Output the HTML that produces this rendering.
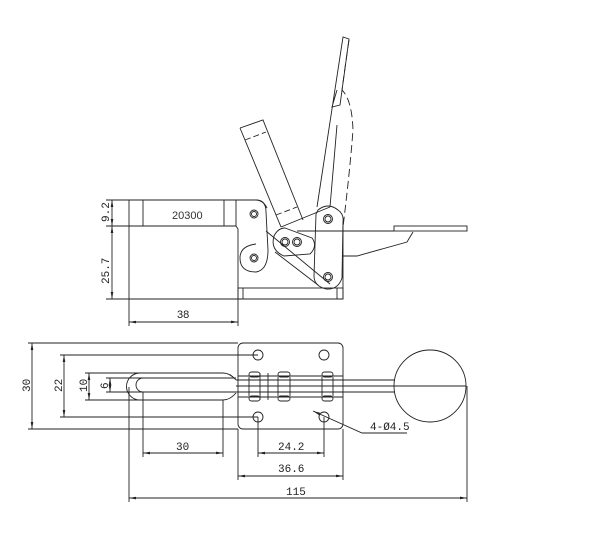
<!DOCTYPE html>
<html><head><meta charset="utf-8"><style>html,body{margin:0;padding:0;background:#fff}svg{display:block}</style></head>
<body>
<svg width="600" height="548" viewBox="0 0 600 548" xmlns="http://www.w3.org/2000/svg" fill="none" stroke="#222" stroke-width="0.9" font-family="Liberation Mono, monospace">
<defs><marker id="a" markerWidth="8" markerHeight="6" refX="8" refY="3" orient="auto-start-reverse"><path d="M0,1.5 L8,3 L0,4.5z" fill="#222" stroke="none"/></marker></defs>
<!-- SIDE VIEW -->
<path d="M129,200 H256 Q263,200 267,208"/>
<path d="M129,226 H236 L238,229 V299 H343"/>
<line x1="129" y1="200" x2="129" y2="326"/>
<line x1="143" y1="200" x2="143" y2="226"/>
<line x1="224" y1="200" x2="224" y2="226"/>
<line x1="236" y1="200" x2="236" y2="226"/>
<text x="172" y="219" font-family="Liberation Sans, sans-serif" font-size="11" fill="#333" stroke="none">20300</text>
<rect x="238" y="288" width="105" height="11"/>
<line x1="243" y1="288" x2="243" y2="299"/><line x1="337" y1="288" x2="337" y2="299"/>
<path d="M343,299 V222"/>
<path d="M256,200 Q266,200 266,212 L268,250 Q268,270 256,272 Q240,272 240,258 Q240,246 256,244"/>
<circle cx="254" cy="214" r="4"/><circle cx="254" cy="214" r="2.5"/>
<circle cx="254" cy="258" r="4"/><circle cx="254" cy="258" r="2.5"/>
<path d="M285,228 L312,238 Q318,246 310,254 L284,256 Q270,250 274,236 Q278,228 285,228Z"/>
<circle cx="285" cy="242" r="4.5"/><circle cx="285" cy="242" r="3"/>
<circle cx="297" cy="242" r="4.5"/><circle cx="297" cy="242" r="3"/>
<line x1="266" y1="231" x2="330" y2="284"/>
<line x1="275" y1="252" x2="318" y2="285"/>
<path d="M318,210 Q328,202 338,210 Q344,214 343,222 L342,278 Q338,290 326,289 Q314,286 314,276 L316,214Z"/>
<circle cx="328" cy="219" r="4.5"/><circle cx="328" cy="219" r="3"/>
<circle cx="328" cy="277" r="4.5"/><circle cx="328" cy="277" r="3"/>
<path d="M240,128 L263,120 L303,220"/>
<path d="M240,128 L281,227"/>
<line x1="245" y1="140" x2="266" y2="132" stroke-dasharray="6,3"/>
<line x1="276" y1="215" x2="297" y2="207" stroke-dasharray="6,3"/>
<line x1="281" y1="227" x2="330" y2="207"/>
<path d="M317,207 L343,37 L349,39 L340,105 L332,107 L337,90"/>
<path d="M349,40 Q346,60 342,90 Q352,100 353,130 Q350,170 343,227" stroke-dasharray="8,4"/>
<line x1="330" y1="207" x2="337" y2="125"/>
<line x1="297" y1="231" x2="394" y2="231"/>
<rect x="394" y="226" width="73" height="5"/>
<path d="M413,232 L407,242 L357,256 L343,256"/>
<line x1="106" y1="200" x2="129" y2="200"/><line x1="106" y1="226" x2="129" y2="226"/><line x1="106" y1="299" x2="238" y2="299"/>
<line x1="112" y1="200" x2="112" y2="226" marker-start="url(#a)" marker-end="url(#a)"/>
<line x1="112" y1="226" x2="112" y2="299" marker-start="url(#a)" marker-end="url(#a)"/>
<line x1="238" y1="299" x2="238" y2="326"/>
<line x1="129" y1="322" x2="238" y2="322" marker-start="url(#a)" marker-end="url(#a)"/>
<g fill="#222" stroke="none" font-size="11">
<text transform="translate(109,222) rotate(-90)">9.2</text>
<text transform="translate(109,284) rotate(-90)">25.7</text>
<text x="177" y="318" font-family="Liberation Sans, sans-serif">38</text>
</g>
<!-- TOP VIEW -->
<rect x="238" y="343" width="105" height="86" rx="5"/>
<circle cx="258" cy="355" r="5"/><circle cx="324" cy="355" r="5"/>
<circle cx="258" cy="417" r="5"/><circle cx="324" cy="417" r="5"/>
<path d="M223,373 H140 A13.5,13.5 0 0 0 140,400 H223 Q230,400 236,393"/>
<path d="M223,373 Q230,373 236,380"/>
<path d="M143,392 A7,7 0 0 1 143,378 H236"/>
<line x1="143" y1="392" x2="236" y2="392"/>
<line x1="236" y1="380" x2="395" y2="380"/><line x1="236" y1="392" x2="395" y2="392"/>
<line x1="236" y1="386" x2="466" y2="386"/>
<line x1="238" y1="376" x2="343" y2="376"/><line x1="238" y1="397" x2="343" y2="397"/>
<line x1="260" y1="373" x2="260" y2="400"/><line x1="268" y1="373" x2="268" y2="400"/>
<g>
<rect x="249" y="372" width="11" height="5" rx="2.5"/><rect x="249" y="396" width="11" height="5" rx="2.5"/>
<rect x="278" y="372" width="12" height="5" rx="2.5"/><rect x="278" y="396" width="12" height="5" rx="2.5"/>
<rect x="322" y="372" width="11" height="5" rx="2.5"/><rect x="322" y="396" width="11" height="5" rx="2.5"/>
<line x1="249" y1="377" x2="249" y2="396"/><line x1="278" y1="377" x2="278" y2="396"/><line x1="290" y1="377" x2="290" y2="396"/>
<line x1="322" y1="377" x2="322" y2="396"/><line x1="333" y1="377" x2="333" y2="396"/>
</g>
<circle cx="430" cy="386" r="36"/>
<line x1="28" y1="343" x2="238" y2="343"/><line x1="28" y1="429" x2="238" y2="429"/>
<line x1="32" y1="343" x2="32" y2="429" marker-start="url(#a)" marker-end="url(#a)"/>
<line x1="60" y1="355" x2="258" y2="355"/><line x1="60" y1="417" x2="258" y2="417"/>
<line x1="64" y1="355" x2="64" y2="417" marker-start="url(#a)" marker-end="url(#a)"/>
<line x1="85" y1="373" x2="140" y2="373"/><line x1="85" y1="400" x2="140" y2="400"/>
<line x1="89" y1="373" x2="89" y2="400" marker-start="url(#a)" marker-end="url(#a)"/>
<line x1="106" y1="378" x2="143" y2="378"/><line x1="106" y1="392" x2="143" y2="392"/>
<line x1="110" y1="378" x2="110" y2="392" marker-start="url(#a)" marker-end="url(#a)"/>
<line x1="143" y1="392" x2="143" y2="457"/><line x1="223" y1="400" x2="223" y2="457"/>
<line x1="143" y1="453" x2="223" y2="453" marker-start="url(#a)" marker-end="url(#a)"/>
<line x1="258" y1="417" x2="258" y2="457"/><line x1="324" y1="417" x2="324" y2="457"/>
<line x1="258" y1="453" x2="324" y2="453" marker-start="url(#a)" marker-end="url(#a)"/>
<line x1="238" y1="429" x2="238" y2="480"/><line x1="343" y1="429" x2="343" y2="480"/>
<line x1="238" y1="476" x2="343" y2="476" marker-start="url(#a)" marker-end="url(#a)"/>
<line x1="129" y1="387" x2="129" y2="502"/><line x1="467" y1="386" x2="467" y2="502"/>
<line x1="129" y1="498" x2="467" y2="498" marker-start="url(#a)" marker-end="url(#a)"/>
<path d="M313,411 L362,433 H407" marker-start="url(#a)"/>
<g fill="#222" stroke="none" font-size="11">
<text transform="translate(30,392) rotate(-90)">30</text>
<text transform="translate(62,392) rotate(-90)">22</text>
<text transform="translate(87,392) rotate(-90)">10</text>
<text transform="translate(108,389) rotate(-90)">6</text>
<text x="176" y="450">30</text>
<text x="278" y="450">24.2</text>
<text x="278" y="472">36.6</text>
<text x="286" y="495">115</text>
<text x="370" y="430">4-Ø4.5</text>
</g>
</svg>
</body></html>
